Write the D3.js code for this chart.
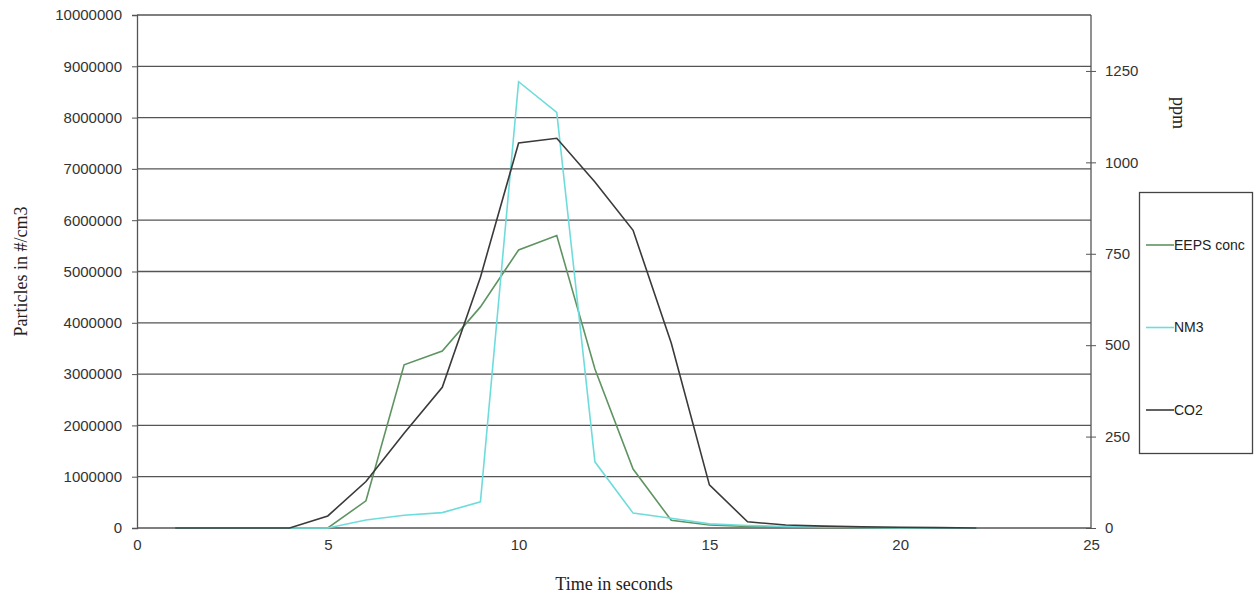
<!DOCTYPE html>
<html>
<head>
<meta charset="utf-8">
<script src="https://cdn.jsdelivr.net/npm/d3@7"></script>
<style>
  body { margin: 0; background: #fff; }
  .tick text { font-family: "Liberation Sans", Arial, sans-serif; font-size: 15px; fill: #333; }
  .title { font-family: "Liberation Serif", "Times New Roman", serif; font-size: 18px; fill: #222; }
</style>
</head>
<body>
<div id="chart"></div>
<script>
var seconds = [1, 2, 3, 4, 5, 6, 7, 8, 9, 10, 11, 12, 13, 14, 15, 16, 17, 18, 19, 20, 21, 22];
var eepsConc = [0, 0, 0, 0, 0, 530000, 3180000, 3450000, 4310000, 5420000, 5700000, 3100000,
  1150000, 150000, 60000, 30000, 15000, 10000, 5000, 3000, 2000, 0];
var nm3 = [0, 0, 0, 0, 0, 155000, 250000, 300000, 510000, 8700000, 8100000, 1290000,
  290000, 190000, 80000, 50000, 30000, 20000, 10000, 5000, 2000, 0];
var co2 = [0, 0, 0, 0, 33, 127, 259, 385, 686, 1053, 1066, 946, 814, 506, 118, 17, 8, 5, 3, 2, 1, 0];

var leftTicks = [0, 1000000, 2000000, 3000000, 4000000, 5000000, 6000000, 7000000, 8000000, 9000000, 10000000];
var rightTicks = [0, 250, 500, 750, 1000, 1250];
var xTicks = [0, 5, 10, 15, 20, 25];

var series = [
  { name: "EEPS conc", values: eepsConc, axis: "left", color: "#5f9462" },
  { name: "NM3", values: nm3, axis: "left", color: "#6fdcdc" },
  { name: "CO2", values: co2, axis: "right", color: "#3a3a3a" }
];

var width = 1260, height = 598;
var margin = { left: 137, right: 169, top: 15, bottom: 70 };

var svg = d3.select("#chart").append("svg")
  .attr("width", width)
  .attr("height", height);

var x = d3.scaleLinear().domain([0, 25]).range([margin.left, width - margin.right]);
var yLeft = d3.scaleLinear().domain([0, 10000000]).range([height - margin.bottom, margin.top]);
var yRight = d3.scaleLinear().domain([0, 1403]).range([height - margin.bottom, margin.top]);

// horizontal grid lines
svg.append("g")
  .selectAll("line")
  .data(leftTicks)
  .enter()
  .append("line")
  .attr("x1", x(0))
  .attr("x2", x(25))
  .attr("y1", function(d) { return yLeft(d); })
  .attr("y2", function(d) { return yLeft(d); })
  .attr("stroke", "#555")
  .attr("stroke-width", 1.3);

// left axis
var leftAxis = svg.append("g")
  .attr("transform", "translate(" + x(0) + ",0)")
  .call(d3.axisLeft(yLeft).tickValues(leftTicks).tickFormat(d3.format("d")).tickSize(5).tickPadding(10));
leftAxis.select(".domain").attr("stroke", "#555").attr("stroke-width", 1.3);
leftAxis.selectAll(".tick line").attr("stroke", "#555");

// right axis
var rightAxis = svg.append("g")
  .attr("transform", "translate(" + x(25) + ",0)")
  .call(d3.axisRight(yRight).tickValues(rightTicks).tickFormat(d3.format("d")).tickSize(5).tickPadding(9));
rightAxis.select(".domain").attr("stroke", "#555").attr("stroke-width", 1.3)
  .attr("d", "M0," + yRight(1403) + "V" + yRight(0));
rightAxis.selectAll(".tick line").attr("stroke", "#555").attr("x1", -5);

// bottom axis (labels only)
var bottomAxis = svg.append("g")
  .attr("transform", "translate(0," + yLeft(0) + ")")
  .call(d3.axisBottom(x).tickValues(xTicks).tickSize(0).tickPadding(11));
bottomAxis.select(".domain").remove();

// lines
series.forEach(function(s) {
  var yScale = s.axis === "left" ? yLeft : yRight;
  var line = d3.line()
    .x(function(d, i) { return x(seconds[i]); })
    .y(function(d) { return yScale(d); });
  svg.append("path")
    .datum(s.values)
    .attr("d", line)
    .attr("fill", "none")
    .attr("stroke", s.color)
    .attr("stroke-width", 1.6);
});

// axis titles
svg.append("text")
  .attr("class", "title")
  .attr("transform", "translate(27," + ((margin.top + height - margin.bottom) / 2) + ") rotate(-90)")
  .attr("text-anchor", "middle")
  .text("Particles in #/cm3");

svg.append("text")
  .attr("class", "title")
  .attr("x", (x(0) + x(25)) / 2)
  .attr("y", 590)
  .attr("text-anchor", "middle")
  .text("Time in seconds");

svg.append("text")
  .attr("class", "title")
  .attr("transform", "translate(1173,113) rotate(90)")
  .attr("text-anchor", "middle")
  .text("ppm");

// legend
var legend = svg.append("g");
legend.append("rect")
  .attr("x", 1139.5)
  .attr("y", 192.5)
  .attr("width", 113)
  .attr("height", 261)
  .attr("fill", "#fff")
  .attr("stroke", "#444")
  .attr("stroke-width", 1.3);

var legendY = d3.scalePoint().domain(series.map(function(s) { return s.name; })).range([245, 410]);

series.forEach(function(s) {
  var ly = legendY(s.name);
  legend.append("line")
    .attr("x1", 1146).attr("x2", 1174)
    .attr("y1", ly).attr("y2", ly)
    .attr("stroke", s.color)
    .attr("stroke-width", 1.6);
  legend.append("text")
    .attr("x", 1174)
    .attr("y", ly)
    .attr("dy", "0.35em")
    .attr("font-family", "Liberation Sans, Arial, sans-serif")
    .attr("font-size", 14)
    .attr("fill", "#222")
    .text(s.name);
});
</script>
</body>
</html>
